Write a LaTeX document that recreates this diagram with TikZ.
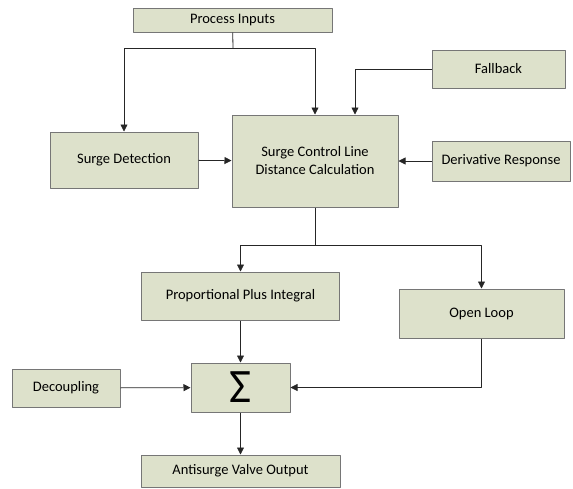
\documentclass[tikz,border=0pt]{standalone}
\usepackage{fontspec}
\setmainfont{Carlito}
\usetikzlibrary{arrows.meta}
\definecolor{boxfill}{RGB}{221,225,203}
\definecolor{boxline}{RGB}{118,118,118}
\tikzset{
  blk/.style={draw=boxline, fill=boxfill, line width=1pt, inner sep=2pt, align=center},
  link/.style={draw=black!85, line width=0.8pt},
}
\begin{document}
\begin{tikzpicture}[x=1pt, y=-1pt, font=\fontsize{14.5}{18}\selectfont, line join=round, >={Triangle[length=7pt,width=7pt]}]
	\useasboundingbox (0,0) rectangle (573,488);
	% blocks
	\node[blk, minimum width=199pt, minimum height=24pt] (pin) at (232.5,20) {Process Inputs};
	\node[blk, minimum width=133pt, minimum height=38pt] (fb) at (498.5,69) {Fallback};
	\node[blk, minimum width=148pt, minimum height=56pt] (sd) at (124,160) {Surge Detection};
	\node[blk, minimum width=166pt, minimum height=92pt] (scl) at (315,161) {Surge Control Line\\Distance Calculation};
	\node[blk, minimum width=138pt, minimum height=40pt] (dr) at (501,161) {Derivative Response};
	\node[blk, minimum width=198pt, minimum height=48pt] (ppi) at (240.5,296) {Proportional Plus Integral};
	\node[blk, minimum width=165pt, minimum height=49pt] (ol) at (481.5,313.5) {Open Loop};
	\node[blk, minimum width=99pt, minimum height=49pt, font=\fontsize{48}{50}\selectfont] (sig) at (240.5,387.5) {Σ};
	\node[blk, minimum width=108pt, minimum height=38pt] (dec) at (66,388) {Decoupling};
	\node[blk, minimum width=199pt, minimum height=32pt] (avo) at (240.5,471) {Antisurge Valve Output};
	% junctions
	\coordinate (pj) at (233,48);
	\coordinate (sj) at (315,245);
	% connectors
	\draw[link] (pin) -- (pj);
	\draw[link,->] (pj) -| (sd);
	\draw[link,->] (pj) -| (scl);
	\draw[link,->] (fb.west) -| ([xshift=40pt]scl.north);
	\draw[link,->] (sd) -- (scl);
	\draw[link,->] (dr) -- (scl);
	\draw[link] (scl) -- (sj);
	\draw[link,->] (sj) -| (ppi);
	\draw[link,->] (sj) -| (ol);
	\draw[link,->] (ppi) -- (sig);
	\draw[link,->] (dec) -- (sig);
	\draw[link,->] (ol.south) |- (sig.east);
	\draw[link,->] (sig) -- (avo);
\end{tikzpicture}
\end{document}
